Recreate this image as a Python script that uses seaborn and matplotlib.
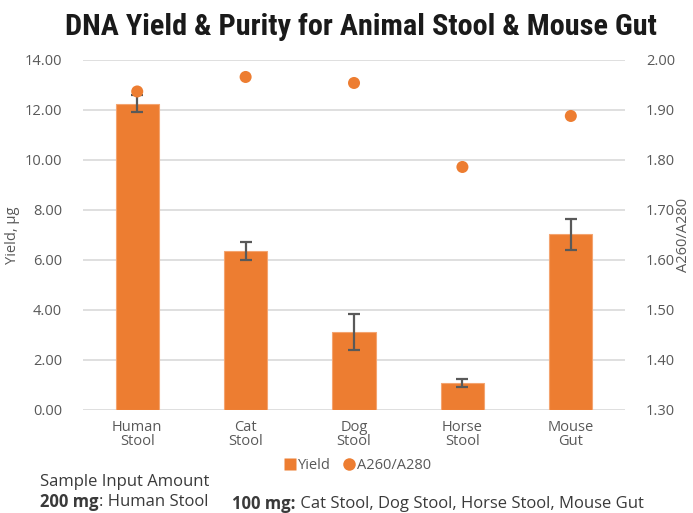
import matplotlib.pyplot as plt
import seaborn as sns
import pandas as pd
from matplotlib.lines import Line2D

# Data
samples = ['Human\nStool', 'Cat\nStool', 'Dog\nStool', 'Horse\nStool', 'Mouse\nGut']
yield_ug = [12.25, 6.35, 3.10, 1.08, 7.02]
yield_err = [0.35, 0.36, 0.72, 0.16, 0.62]
ratio = [1.937, 1.966, 1.954, 1.786, 1.888]

orange = '#ED7D31'
gray_txt = '#595959'
dark_txt = '#3A3A3A'

df = pd.DataFrame({'sample': samples, 'yield': yield_ug, 'err': yield_err, 'ratio': ratio})

sns.set_style('white')
plt.rcParams['font.family'] = ['Open Sans', 'DejaVu Sans']

fig = plt.figure(figsize=(6.93, 5.13), dpi=100)
ax = fig.add_axes([0.1198, 0.2008, 0.7821, 0.6823])

sns.barplot(data=df, x='sample', y='yield', color=orange, saturation=1,
            width=0.4, edgecolor='#F4A470', linewidth=0.8, ax=ax, zorder=2)
ax.errorbar(range(len(df)), df['yield'], yerr=df['err'], fmt='none',
            ecolor=gray_txt, elinewidth=1.6, capsize=4, capthick=1.6, zorder=3)

ax.set_ylim(0, 14)
ax.set_yticks([0, 2, 4, 6, 8, 10, 12, 14])
ax.set_yticklabels(['%.2f' % v for v in ax.get_yticks()])
ax.yaxis.grid(True, color='#D9D9D9', linewidth=1.2, zorder=0)
ax.set_axisbelow(True)
ax.set_xlabel('')
ax.set_ylabel('Yield, µg', fontsize=10.5, color=gray_txt, va='center')
ax.yaxis.set_label_coords(-0.131, 0.5)
ax.tick_params(axis='both', length=0, labelsize=10.5, labelcolor=gray_txt)
ax.tick_params(axis='y', pad=15)
ax.tick_params(axis='x', pad=7)
for lbl in ax.get_xticklabels():
    lbl.set_linespacing(0.9)
for s in ax.spines.values():
    s.set_visible(False)

ax2 = ax.twinx()
sns.scatterplot(data=df, x='sample', y='ratio', color=orange, s=75,
                edgecolor='none', ax=ax2, zorder=4)
ax.set_xlim(-0.5, len(samples) - 0.5)
ax2.set_ylim(1.3, 2.0)
ax2.set_yticks([1.3, 1.4, 1.5, 1.6, 1.7, 1.8, 1.9, 2.0])
ax2.set_yticklabels(['%.2f' % v for v in ax2.get_yticks()])
ax2.set_ylabel('A260/A280', fontsize=10.5, color=gray_txt, va='center')
ax2.yaxis.set_label_coords(1.107, 0.5)
ax2.tick_params(axis='y', length=0, labelsize=10.5, labelcolor=gray_txt, pad=15)
for s in ax2.spines.values():
    s.set_visible(False)

fig.text(0.521, 0.948, 'DNA Yield & Purity for Animal Stool & Mouse Gut',
         ha='center', va='center', fontsize=21.8, fontweight='bold',
         family=['Roboto Condensed', 'Liberation Sans Narrow', 'DejaVu Sans'], color='#1A1A1A')

# legend
handles = [Line2D([], [], marker='s', color='none', markerfacecolor=orange,
                  markeredgecolor='none', markersize=8, label='Yield'),
           Line2D([], [], marker='o', color='none', markerfacecolor=orange,
                  markeredgecolor='none', markersize=9, label='A260/A280')]
fig.legend(handles=handles, loc='center', bbox_to_anchor=(0.515, 0.093), ncol=2,
           frameon=False, fontsize=10.5, labelcolor=gray_txt, handletextpad=0.05,
           columnspacing=0.8, handlelength=1.0)

# sample input footnote: bold amount followed by regular text
fig.text(0.058, 0.06, 'Sample Input Amount', fontsize=12, color=dark_txt, va='center')
notes = [(0.058, 0.021, '200 mg', ': Human Stool', 12),
         (0.335, 0.018, '100 mg:', ' Cat Stool, Dog Stool, Horse Stool, Mouse Gut', 12)]
fig.canvas.draw()
renderer = fig.canvas.get_renderer()
for x, y, bold, rest, fs in notes:
    t = fig.text(x, y, bold, fontsize=fs, fontweight='bold', color=dark_txt, va='center')
    bb = t.get_window_extent(renderer).transformed(fig.transFigure.inverted())
    fig.text(bb.x1, y, rest, fontsize=fs, color=dark_txt, va='center')

fig.savefig('out.png', dpi=100)
